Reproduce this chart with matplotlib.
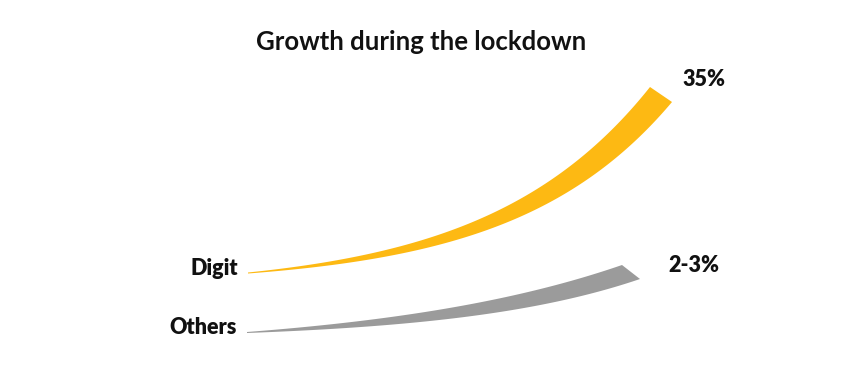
import numpy as np
import matplotlib.pyplot as plt

# chart content
title = 'Growth during the lockdown'
categories = ['Digit', 'Others']
growth = ['35%', '2-3%']
colors = ['#FDB913', '#9B9B9B']

# swoosh geometry (pixel space, y downwards)
start_x = [248, 247]
start_y = [272.5, 332]
tip_top = [(650, 87), (622, 265)]      # upper corner of the cut end
tip_bot = [(672, 102), (640, 279)]     # lower corner of the cut end
bend_top = [2.5, 1.5]
bend_bot = [2.75, 2.2]

# where the growth figures sit
value_pos = [(682, 80), (668, 266)]

plt.rcParams['font.family'] = ['Lato', 'DejaVu Sans']

fig = plt.figure(figsize=(8.42, 3.77), dpi=100)
ax = fig.add_axes([0, 0, 1, 1])
ax.set_xlim(0, 842)
ax.set_ylim(377, 0)
ax.axis('off')


def edge(x0, y0, x1, y1, k, n=200):
    t = np.linspace(0, 1, n)
    x = x0 + (x1 - x0) * t
    y = y0 - (y0 - y1) * (np.exp(k * t) - 1) / (np.exp(k) - 1)
    return x, y


for i in range(len(categories)):
    xt, yt = edge(start_x[i], start_y[i], tip_top[i][0], tip_top[i][1], bend_top[i])
    xb, yb = edge(start_x[i], start_y[i] + 1, tip_bot[i][0], tip_bot[i][1], bend_bot[i])
    xs = np.concatenate([xt, xb[::-1]])
    ys = np.concatenate([yt, yb[::-1]])
    ax.fill(xs, ys, color=colors[i], lw=0)

    ax.text(start_x[i] - 10, start_y[i] - 4, categories[i], ha='right', va='center',
            fontsize=15.5, fontweight='heavy', color='#111111')
    ax.text(value_pos[i][0], value_pos[i][1], growth[i], ha='left', va='center',
            fontsize=15.5, fontweight='heavy', color='#111111')

ax.text(421, 42, title, ha='center', va='center', fontsize=18.5,
        fontweight='bold', color='#111111')

fig.savefig('out.png', dpi=100)
